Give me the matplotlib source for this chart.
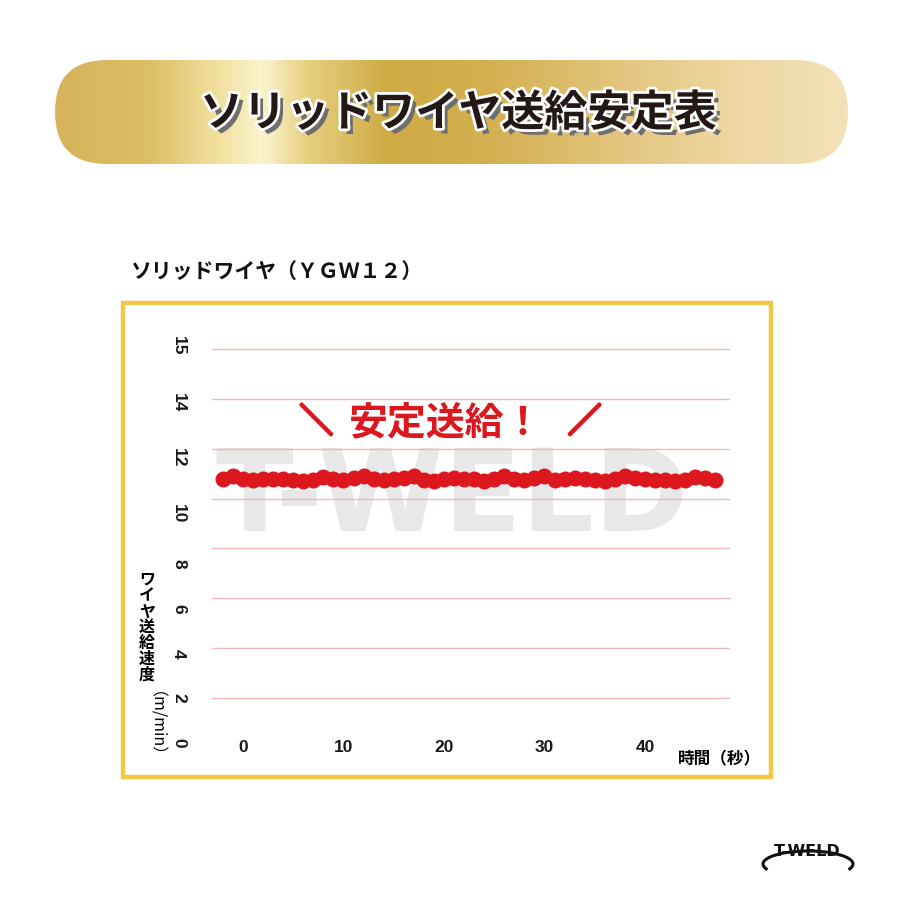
import numpy as np
import matplotlib
matplotlib.use("Agg")
import matplotlib.pyplot as plt
import matplotlib.patheffects as pe
from matplotlib.patches import FancyBboxPatch, Rectangle, Arc
from matplotlib.colors import LinearSegmentedColormap

plt.rcParams['font.family'] = ['Noto Sans CJK JP', 'DejaVu Sans']

# ---- data ---------------------------------------------------------------
time_s = list(range(-2, 48))
feed_speed = [10.80, 10.90, 10.78, 10.76, 10.80, 10.78, 10.80, 10.74, 10.70, 10.76,
              10.88, 10.80, 10.74, 10.82, 10.92, 10.78, 10.76, 10.80, 10.84, 10.90,
              10.74, 10.72, 10.78, 10.84, 10.80, 10.78, 10.72, 10.80, 10.90, 10.80,
              10.74, 10.82, 10.90, 10.76, 10.80, 10.82, 10.78, 10.74, 10.72, 10.80,
              10.92, 10.82, 10.78, 10.76, 10.74, 10.70, 10.76, 10.88, 10.82, 10.76]

x_ticks = [0, 10, 20, 30, 40]
y_tick_labels = ['0', '2', '4', '6', '8', '10', '12', '14', '15']
y_tick_pos = [0.20, 2.03, 3.78, 5.57, 7.40, 9.39, 11.62, 13.85, 16.12]
grid_levels = [2, 4, 6, 8, 10, 12, 14, 16]

title = 'ソリッドワイヤ送給安定表'
subtitle = 'ソリッドワイヤ（ＹＧＷ１２）'
y_label_jp = 'ワイヤ送給速度'
y_label_unit = '（m/min）'
x_label = '時間（秒）'
callout = '安定送給！'

RED = '#DC171E'
GOLD_FRAME = '#F0C846'
NUM_FONT = ['Liberation Sans', 'DejaVu Sans']
NARROW = ['Liberation Sans Narrow', 'DejaVu Sans']

fig = plt.figure(figsize=(9, 9), dpi=100)

# background layer in pixel coordinates
bg = fig.add_axes([0, 0, 1, 1], zorder=0)
bg.set_xlim(0, 900)
bg.set_ylim(900, 0)
bg.axis('off')

# gold banner
stops = [(0, '#D6B35A'), (0.12, '#DDBF66'), (0.2, '#F0DF9C'), (0.26, '#FBF4CD'),
         (0.32, '#E6CE7E'), (0.42, '#CFAA45'), (0.55, '#D4B050'), (0.7, '#E2C37A'),
         (0.85, '#EDD6A0'), (1, '#F3E2B8')]
cmap = LinearSegmentedColormap.from_list('gold', stops)
pill = FancyBboxPatch((55, 60), 793, 104, boxstyle='round,pad=0,rounding_size=52',
                      facecolor='none', edgecolor='none')
bg.add_patch(pill)
grad = np.linspace(0, 1, 400).reshape(1, -1)
im = bg.imshow(grad, cmap=cmap, extent=(55, 848, 164, 60), aspect='auto', zorder=1)
im.set_clip_path(pill)
bg.set_xlim(0, 900)
bg.set_ylim(900, 0)

bg.text(458, 113, title, fontsize=31, fontweight='bold', color='#231815',
        ha='center', va='center', zorder=3,
        path_effects=[pe.withSimplePatchShadow(offset=(4, -4), shadow_rgbFace='#6E6E6E', alpha=1.0),
                      pe.Stroke(linewidth=4, foreground='white'),
                      pe.Normal()])

bg.text(130, 271, subtitle, fontsize=15, fontweight='bold', color='#111111',
        ha='left', va='center')

# yellow frame
bg.add_patch(Rectangle((123, 303), 648, 474, facecolor='white', edgecolor=GOLD_FRAME,
                       linewidth=3.2, zorder=1))

# axis titles
bg.text(147, 572, '\n'.join(y_label_jp), fontsize=11.5, fontweight='bold',
        ha='center', va='top', linespacing=0.98, zorder=3)
bg.text(147, 732, y_label_unit, fontsize=11.5, rotation=-90,
        ha='center', va='center', zorder=3)
bg.text(720, 759, x_label, fontsize=12, fontweight='bold', ha='center', va='center', zorder=3)

# logo
bg.text(807, 851, 'T-WELD', fontsize=11.5, fontweight='bold', ha='center', va='center',
        family=NARROW, color='#111111', zorder=3)
bg.add_patch(Arc((808, 864), 90, 26, theta1=172, theta2=368, color='#111111', lw=2.2, zorder=3))

# ---- chart ----------------------------------------------------------------
ax = fig.add_axes([212 / 900, 1 - 748 / 900, 518 / 900, 402 / 900], zorder=2)
ax.patch.set_alpha(0)
ax.set_xlim(-3.08, 48.46)
ax.set_ylim(0, 16)
for s in ax.spines.values():
    s.set_visible(False)

ax.text(20.8, 9.95, 'T-WELD', fontsize=82, fontweight='bold', color='#E8E8E8',
        family=NARROW, ha='center', va='center', zorder=0)

ax.set_yticks(grid_levels, minor=True)
ax.grid(which='minor', axis='y', color='#F2B8B8', linewidth=1)
ax.set_yticks(y_tick_pos)
ax.set_yticklabels(y_tick_labels, rotation=-90, ha='center', va='center', fontsize=12.5,
                   family=NUM_FONT, fontweight='bold', color='#1a1a1a')
ax.set_xticks(x_ticks)
ax.set_xticklabels([str(t) for t in x_ticks], fontsize=12.5, family=NUM_FONT,
                   fontweight='bold', color='#1a1a1a')
ax.tick_params(axis='y', length=0, pad=24)
ax.tick_params(axis='x', length=0, pad=-6)
ax.tick_params(axis='y', which='minor', length=0)

ax.plot(time_s, feed_speed, color=RED, linewidth=4, marker='o', markersize=10.5,
        markerfacecolor=RED, markeredgecolor=RED, zorder=3)

# callout
ax.text(20.2, 13.05, callout, fontsize=28, fontweight='bold', color=RED,
        ha='center', va='center', zorder=4)
ax.text(7.3, 13.05, '＼', fontsize=24, fontweight='bold', color=RED, ha='center', va='center', zorder=4,
        path_effects=[pe.Stroke(linewidth=2, foreground=RED), pe.Normal()])
ax.text(34.0, 13.05, '／', fontsize=24, fontweight='bold', color=RED, ha='center', va='center', zorder=4,
        path_effects=[pe.Stroke(linewidth=2, foreground=RED), pe.Normal()])

fig.savefig('out.png', dpi=100)
